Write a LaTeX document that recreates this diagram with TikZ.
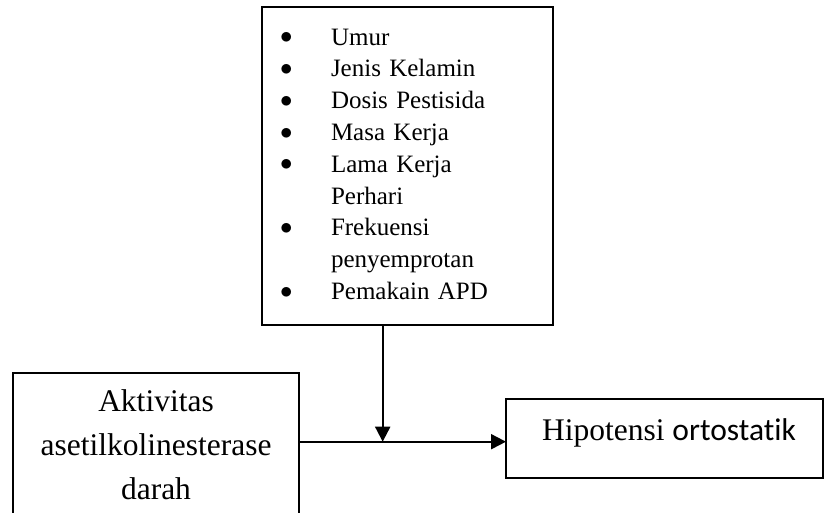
\documentclass[tikz,border=0pt]{standalone}
\usepackage{fontspec}
\setmainfont{Liberation Serif}
\newfontfamily\calfont[RawFeature=-liga]{Carlito}
\usetikzlibrary{positioning, calc, arrows.meta}
\tikzset{vbox/.style={draw, line width=1.5pt, inner sep=0pt, outer sep=0pt, align=center}}
\tikzset{arr/.style={draw, line width=2pt, -{Triangle[length=15pt, width=15pt]}}}
\tikzset{listfont/.style={font=\fontsize{25}{31.8}\selectfont}}
\tikzset{boxfont/.style={font=\fontsize{31.5}{44}\selectfont}}
\newcommand{\bul}{\raisebox{1.5pt}{\fontsize{34}{0}\selectfont$\bullet$}}

\begin{document}
\begin{tikzpicture}[x=1pt, y=1pt]
	\useasboundingbox (0,0) rectangle (825,-512);
	% factors
	\node[vbox, listfont, anchor=north west, minimum width=291pt, minimum height=318pt,
		text width=255pt, align=left] (fak) at (262,-7) {%
		\begin{tabular}{@{}p{51pt}@{}l@{}}
			\bul & Umur\\
			\bul & Jenis Kelamin\\
			\bul & Dosis Pestisida\\
			\bul & Masa Kerja\\
			\bul & Lama Kerja\\
			     & Perhari\\
			\bul & Frekuensi\\
			     & penyemprotan\\
			\bul & Pemakain APD
		\end{tabular}};
	\node[vbox, boxfont, anchor=north west, minimum width=286pt, minimum height=144pt]
		(act) at (13,-373) {Aktivitas\\asetilkolinesterase\\darah};
	\node[vbox, boxfont, anchor=north west, minimum width=317pt, minimum height=79pt,
		text height=20pt, text depth=15.6pt, inner xsep=0pt] (hip) at (506,-399)
		{\hspace{9pt}Hipotensi {\calfont ortostatik}};
	%
	\coordinate (jn) at (382.7,-441.7);
	\draw[arr] (fak.south -| jn) -- (jn);
	\draw[arr] (act.east |- jn) -- (hip.west |- jn);
\end{tikzpicture}
\end{document}
